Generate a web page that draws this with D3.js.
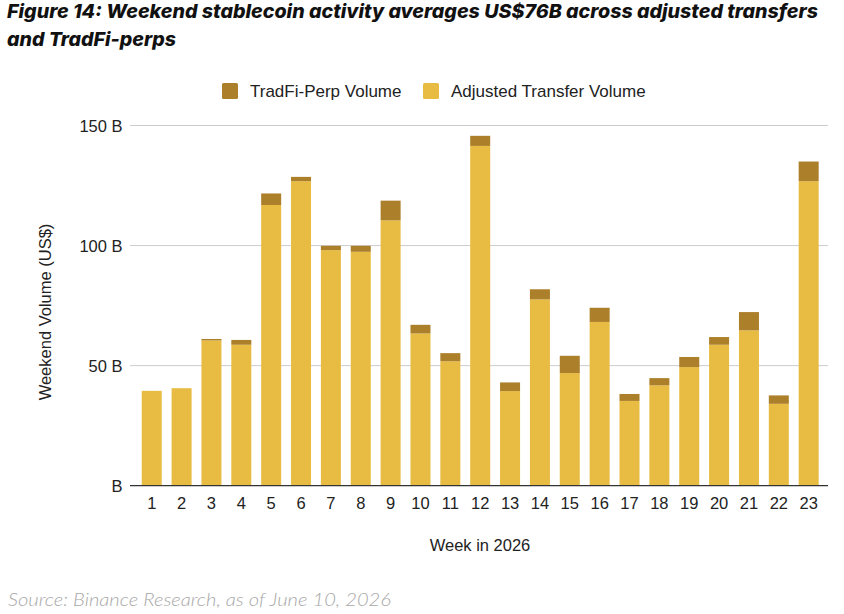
<!DOCTYPE html>
<html>
<head>
<meta charset="utf-8">
<script src="https://cdn.jsdelivr.net/npm/d3@7"></script>
<style>
  body { margin: 0; background: #fff; }
  svg { display: block; }
  .title { font-family: Inter, "Noto Sans", sans-serif; font-weight: 800; font-style: italic; font-size: 19px; fill: #111; }
  .lbl { font-family: "Liberation Sans", Arial, sans-serif; font-size: 16.5px; fill: #222; }
  .legend-lbl { font-size: 17px; }
  .source { font-family: Lato, "Noto Sans", sans-serif; font-weight: 300; font-style: italic; font-size: 18px; fill: #a8a8a8; }
</style>
</head>
<body>
<script>
// week numbers along the x axis
let weeks = d3.range(1, 24).map(String)

// adjusted transfer volume, US$ billions
let transferVol = [39.5, 40.6, 60.5, 58.7, 116.9, 126.8, 98.1, 97.4, 110.5, 63.4, 51.8, 141.5,
                   39.4, 77.6, 46.9, 68.2, 35.3, 41.8, 49.4, 58.7, 64.7, 34.1, 126.8]

// tradfi-perp volume, US$ billions, stacked on top
let perpVol = [0, 0, 0.6, 2.0, 4.8, 1.8, 1.8, 2.5, 8.2, 3.6, 3.4, 4.2,
               3.6, 4.2, 7.2, 5.9, 2.9, 3.0, 4.2, 3.2, 7.6, 3.5, 8.2]

let yTicks = [0, 50, 100, 150]
let seriesNames = ['TradFi-Perp Volume', 'Adjusted Transfer Volume']
let colors = {transfer: '#E8BC42', perp: '#AC7F2A'}

let svgWidth = 844
let svgHeight = 614

let svg = d3.select('body').append('svg')
    .attr('width', svgWidth)
    .attr('height', svgHeight)

// plot area
let plot = {left: 130, right: 828, top: 125.5, bottom: 485.7}

// titles, stretched to the widths seen in the reference
svg.append('text').classed('title', true)
    .attr('x', 7).attr('y', 18)
    .attr('textLength', 811).attr('lengthAdjust', 'spacingAndGlyphs')
    .text('Figure 14: Weekend stablecoin activity averages US$76B across adjusted transfers')
svg.append('text').classed('title', true)
    .attr('x', 7).attr('y', 46)
    .attr('textLength', 169).attr('lengthAdjust', 'spacingAndGlyphs')
    .text('and TradFi-perps')

// scales
let xScale = d3.scaleBand()
    .domain(weeks)
    .range([136.8, 823.6])
    .paddingInner(0.33)
    .paddingOuter(0.165)

let yScale = d3.scaleLinear()
    .domain([0, 150])
    .range([plot.bottom, plot.top])

// gridlines
svg.append('g').selectAll('line')
    .data(yTicks.filter(d => d > 0))
    .join('line')
    .attr('x1', plot.left).attr('x2', plot.right)
    .attr('y1', d => yScale(d)).attr('y2', d => yScale(d))
    .attr('stroke', '#cccccc')
    .attr('stroke-width', 1)

// y tick labels
svg.append('g').selectAll('text')
    .data(yTicks)
    .join('text')
    .classed('lbl', true)
    .attr('x', 122.5)
    .attr('y', d => yScale(d) + 6)
    .attr('text-anchor', 'end')
    .text(d => d === 0 ? 'B' : d + ' B')

// stacked bars (top segment gets slightly rounded corners)
let stackData = weeks.map((w, i) => ({week: w, transfer: transferVol[i], perp: perpVol[i]}))
let stack = d3.stack().keys(['transfer', 'perp'])(stackData)

svg.append('g').selectAll('g')
    .data(stack)
    .join('g')
    .attr('fill', d => colors[d.key])
    .selectAll('rect')
    .data(d => d.filter(p => p[1] - p[0] > 0))
    .join('rect')
    .attr('x', d => xScale(d.data.week))
    .attr('width', xScale.bandwidth())
    .attr('y', d => yScale(d[1]))
    .attr('height', d => yScale(d[0]) - yScale(d[1]))

// baseline
svg.append('line')
    .attr('x1', plot.left).attr('x2', plot.right)
    .attr('y1', plot.bottom).attr('y2', plot.bottom)
    .attr('stroke', '#333')
    .attr('stroke-width', 1.3)

// x axis labels
svg.append('g').selectAll('text')
    .data(weeks)
    .join('text')
    .classed('lbl', true)
    .attr('x', d => xScale(d) + xScale.bandwidth() / 2)
    .attr('y', 509)
    .attr('text-anchor', 'middle')
    .text(d => d)

// axis titles
svg.append('text').classed('lbl', true)
    .attr('x', 480).attr('y', 551)
    .attr('text-anchor', 'middle')
    .text('Week in 2026')

svg.append('text').classed('lbl', true)
    .attr('transform', 'translate(51,' + 312 + ') rotate(-90)')
    .attr('text-anchor', 'middle')
    .text('Weekend Volume (US$)')

// legend
let legendItems = [
    {name: seriesNames[0], color: colors.perp, x: 222},
    {name: seriesNames[1], color: colors.transfer, x: 423}
]
let legend = svg.append('g').selectAll('g')
    .data(legendItems)
    .join('g')
    .attr('transform', d => 'translate(' + d.x + ',83)')
legend.append('rect')
    .attr('width', 16).attr('height', 16)
    .attr('rx', 1.5)
    .attr('fill', d => d.color)
legend.append('text').classed('lbl legend-lbl', true)
    .attr('x', 28).attr('y', 14)
    .text(d => d.name)

// source
svg.append('text').classed('source', true)
    .attr('x', 8).attr('y', 606)
    .attr('textLength', 383).attr('lengthAdjust', 'spacingAndGlyphs')
    .text('Source: Binance Research, as of June 10, 2026')
</script>
</body>
</html>
